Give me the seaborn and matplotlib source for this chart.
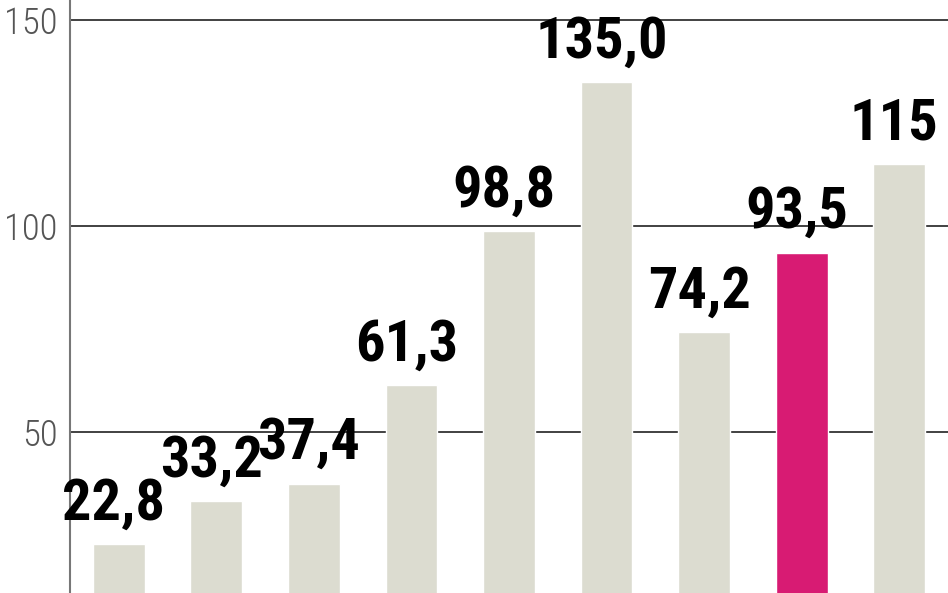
import matplotlib
matplotlib.use('Agg')
import pandas as pd
import matplotlib.pyplot as plt
import seaborn as sns

# 데이터
kategorie = ['k1', 'k2', 'k3', 'k4', 'k5', 'k6', 'k7', 'k8', 'k9']
wartosci = [22.8, 33.2, 37.4, 61.3, 98.8, 135.0, 74.2, 93.5, 115]
etykiety = ['22,8', '33,2', '37,4', '61,3', '98,8', '135,0', '74,2', '93,5', '115']
wyroznione = 'k8'

df = pd.DataFrame({'kat': kategorie, 'val': wartosci})

sns.set_style('white')
rodzina = ['Liberation Sans Narrow', 'DejaVu Sans Condensed', 'Roboto Condensed', 'DejaVu Sans']
plt.rcParams['font.family'] = rodzina

fig = plt.figure(figsize=(9.48, 5.93), dpi=100)
ax = fig.add_axes([70 / 948, 0, 1 - 70 / 948, 1])

kolory = {k: ('#d81b73' if k == wyroznione else '#dcdcd0') for k in kategorie}
sns.barplot(data=df, x='kat', y='val', hue='kat', palette=kolory, saturation=1,
            width=0.53, legend=False, ax=ax, zorder=2)

ax.set_xlim(-0.5, 8.5)
ax.set_ylim(10.9, 154.9)
ax.set_yticks([50, 100, 150])
ax.yaxis.grid(True, color='#333333', lw=1.3, zorder=0)
ax.set_axisbelow(True)
ax.set_xticks([])
ax.set_xlabel('')
ax.set_ylabel('')
ax.tick_params(axis='y', length=0, pad=9, labelsize=26.5, labelcolor='#555555')
for lab in ax.get_yticklabels():
    lab.set_fontweight('light')

for s in ['top', 'right', 'bottom']:
    ax.spines[s].set_visible(False)
ax.spines['left'].set_color('#777777')
ax.spines['left'].set_linewidth(1.5)

for i, (v, t) in enumerate(zip(wartosci, etykiety)):
    ax.text(i - 0.05, v + 6, t, ha='center', va='baseline', fontsize=42,
            fontweight='bold', color='black', zorder=3, clip_on=False)

fig.savefig('out.png', dpi=100)
